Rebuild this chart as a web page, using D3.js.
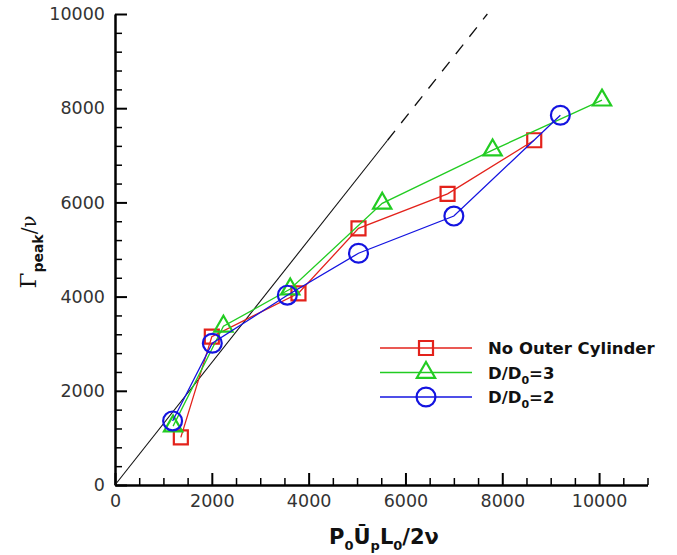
<!DOCTYPE html>
<html>
<head>
<meta charset="utf-8">
<script src="https://cdn.jsdelivr.net/npm/d3@7"></script>
<style>
  body { margin: 0; background: #fff; }
  svg { display: block; }
</style>
</head>
<body>
<svg id="chart" width="677" height="555"></svg>
<script>
// data
var seriesNames = ["No Outer Cylinder", "D/D0=3", "D/D0=2"];
var xRed   = [1360, 2000, 3790, 5030, 6870, 8660];
var yRed   = [1010, 3150, 4070, 5450, 6180, 7320];
var xGreen = [1200, 2240, 3620, 5520, 7800, 10060];
var yGreen = [1250, 3370, 4160, 5980, 7110, 8170];
var xBlue  = [1190, 2010, 3560, 5030, 7000, 9200];
var yBlue  = [1360, 3010, 4030, 4920, 5710, 7850];

// reference line  y = slope * x, solid then dashed
var refSlope = 1.3;
var refSolid = [0, 5630];
var refDashed = [5630, 7692];

var xTicks = [0, 2000, 4000, 6000, 8000, 10000];
var yTicks = [0, 2000, 4000, 6000, 8000, 10000];

var svg = d3.select("#chart");

var x = d3.scaleLinear().domain([0, 11000]).range([115, 647.5]);
var y = d3.scaleLinear().domain([0, 10000]).range([485, 14]);

var tickFont = "DejaVu Sans, sans-serif";

/*
  AXES
*/
var xMinor = d3.range(0, 11001, 500).filter(function (v) { return v % 2000 !== 0; });
var yMinor = d3.range(0, 10001, 400).filter(function (v) { return v % 2000 !== 0; });

svg.append("g")
  .attr("transform", "translate(0," + y(0) + ")")
  .call(d3.axisBottom(x).tickValues(xMinor).tickSize(-7).tickFormat(""))
  .call(function (g) { g.select(".domain").remove(); g.selectAll("line").attr("stroke-width", 1.5); });

svg.append("g")
  .attr("transform", "translate(" + x(0) + ",0)")
  .call(d3.axisLeft(y).tickValues(yMinor).tickSize(-7).tickFormat(""))
  .call(function (g) { g.select(".domain").remove(); g.selectAll("line").attr("stroke-width", 1.5); });

var gx = svg.append("g")
  .attr("transform", "translate(0," + y(0) + ")")
  .call(d3.axisBottom(x).tickValues(xTicks).tickSize(-12).tickSizeOuter(0).tickPadding(10).tickFormat(d3.format("d")));

var gy = svg.append("g")
  .attr("transform", "translate(" + x(0) + ",0)")
  .call(d3.axisLeft(y).tickValues(yTicks).tickSize(-12).tickSizeOuter(0).tickPadding(10).tickFormat(d3.format("d")));

[gx, gy].forEach(function (g) {
  g.select(".domain").attr("stroke-width", 2.5).attr("stroke", "#000");
  g.selectAll(".tick line").attr("stroke-width", 2).attr("stroke", "#000");
  g.selectAll(".tick text")
    .attr("fill", "#333")
    .style("font-family", tickFont)
    .style("font-size", "17.5px");
});

/*
  REFERENCE LINE
*/
svg.append("line")
  .attr("x1", x(refSolid[0])).attr("y1", y(refSlope * refSolid[0]))
  .attr("x2", x(refSolid[1])).attr("y2", y(refSlope * refSolid[1]))
  .attr("stroke", "#111").attr("stroke-width", 1.1);

svg.append("line")
  .attr("x1", x(refDashed[0])).attr("y1", y(refSlope * refDashed[0]))
  .attr("x2", x(refDashed[1])).attr("y2", y(refSlope * refDashed[1]))
  .attr("stroke", "#111").attr("stroke-width", 1.3)
  .attr("stroke-dasharray", "12,10");

/*
  SERIES
*/
var series = [
  { name: seriesNames[0], xs: xRed,   ys: yRed,   color: "#e3221b", symbol: d3.symbolSquare,   size: 196 },
  { name: seriesNames[1], xs: xGreen, ys: yGreen, color: "#22cc22", symbol: d3.symbolTriangle, size: 145 },
  { name: seriesNames[2], xs: xBlue,  ys: yBlue,  color: "#1414e0", symbol: d3.symbolCircle,   size: 280 }
];

var line = d3.line().x(function (d) { return x(d[0]); }).y(function (d) { return y(d[1]); });

series.forEach(function (s) {
  var pts = d3.zip(s.xs, s.ys);
  svg.append("path")
    .datum(pts)
    .attr("d", line)
    .attr("fill", "none")
    .attr("stroke", s.color)
    .attr("stroke-width", 1.3);

  svg.selectAll(null)
    .data(pts)
    .enter().append("path")
    .attr("transform", function (d) { return "translate(" + x(d[0]) + "," + y(d[1]) + ")"; })
    .attr("d", d3.symbol().type(s.symbol).size(s.size))
    .attr("fill", "none")
    .attr("stroke", s.color)
    .attr("stroke-width", 2.2);
});

/*
  LEGEND
*/
var legend = svg.append("g").attr("transform", "translate(380,348)");
var rowH = 24.5;

series.forEach(function (s, i) {
  var row = legend.append("g").attr("transform", "translate(0," + (i * rowH) + ")");
  row.append("line")
    .attr("x1", 0).attr("x2", 92).attr("y1", 0).attr("y2", 0)
    .attr("stroke", s.color).attr("stroke-width", 1.3);
  row.append("path")
    .attr("transform", "translate(46,0)")
    .attr("d", d3.symbol().type(s.symbol).size(s.size))
    .attr("fill", "none")
    .attr("stroke", s.color)
    .attr("stroke-width", 2.2);

  var t = row.append("text")
    .attr("x", 108).attr("y", 6)
    .style("font-family", tickFont)
    .style("font-weight", "bold")
    .style("font-size", "16.5px")
    .attr("fill", "#111");
  var m = s.name.match(/^(D\/D)0(=\d)$/);
  if (m) {
    t.append("tspan").text(m[1]);
    t.append("tspan").attr("dy", 5).style("font-size", "11px").text("0");
    t.append("tspan").attr("dy", -5).text(m[2]);
  } else {
    t.text(s.name);
  }
});

/*
  AXIS TITLES
*/
var xt = svg.append("text")
  .attr("x", 384).attr("y", 544)
  .attr("text-anchor", "middle")
  .style("font-family", tickFont)
  .style("font-weight", "bold")
  .style("font-size", "21px")
  .attr("fill", "#111");
xt.append("tspan").text("P");
xt.append("tspan").attr("dy", 6).style("font-size", "13px").text("0");
xt.append("tspan").attr("dy", -6).text("\u016A");
xt.append("tspan").attr("dy", 6).style("font-size", "13px").text("p");
xt.append("tspan").attr("dy", -6).text("L");
xt.append("tspan").attr("dy", 6).style("font-size", "13px").text("0");
xt.append("tspan").attr("dy", -6).text("/2\u03BD");

var yt = svg.append("text")
  .attr("transform", "translate(36,252) rotate(-90)")
  .attr("text-anchor", "middle")
  .attr("fill", "#111");
yt.append("tspan").style("font-family", "DejaVu Serif, serif").style("font-size", "23px").text("\u0393");
yt.append("tspan").attr("dy", 7).style("font-family", tickFont).style("font-weight", "bold").style("font-size", "14px").text("peak");
yt.append("tspan").attr("dy", -7).style("font-family", "DejaVu Serif, serif").style("font-size", "20px").text("/\u03BD");
</script>
</body>
</html>
